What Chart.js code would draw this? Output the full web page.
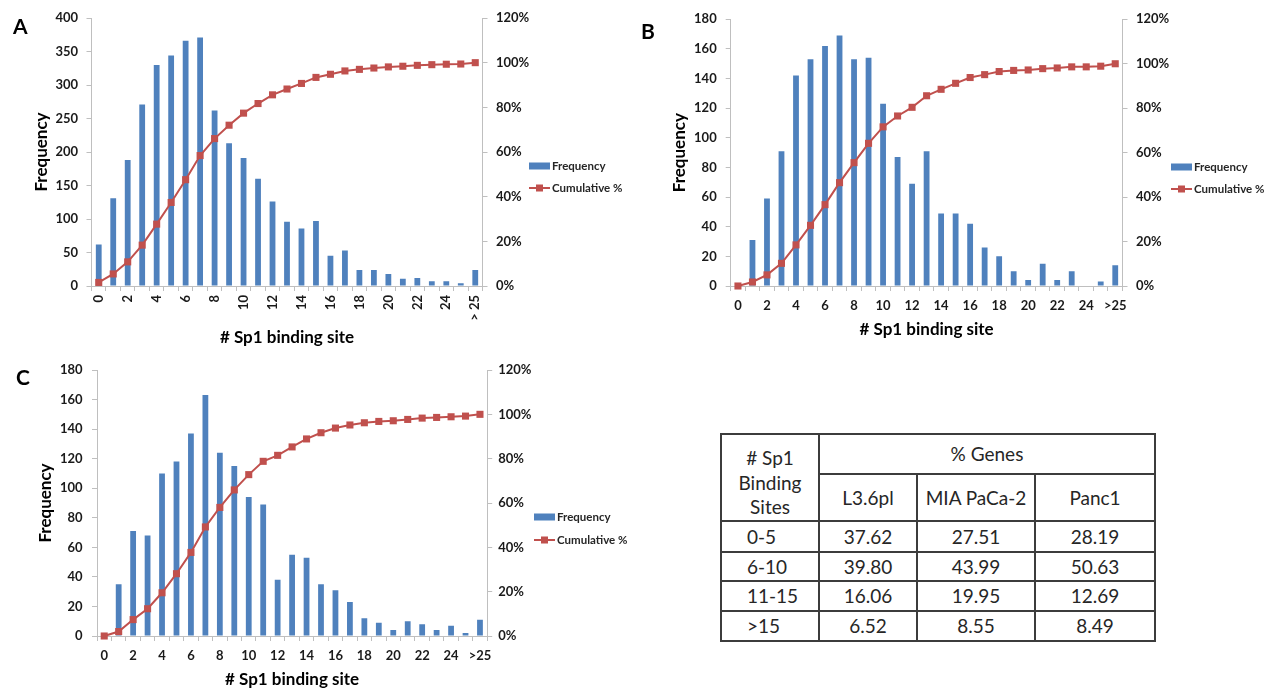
<!DOCTYPE html>
<html><head><meta charset="utf-8">
<script src="https://cdn.jsdelivr.net/npm/chart.js@4.4.0/dist/chart.umd.min.js"></script>
<style>
html,body{margin:0;padding:0;background:#fff;overflow:hidden;width:1269px;height:689px;position:relative;}
canvas{position:absolute;}
.panel{position:absolute;font-family:Lato,'Open Sans',sans-serif;font-weight:700;font-size:21px;line-height:21px;color:#000;}
table{position:absolute;left:720px;top:433px;border-collapse:collapse;font-family:Lato,'Open Sans',sans-serif;font-size:19px;color:#262626;table-layout:fixed;}
td{border:2px solid #3c3c3c;padding:0;text-align:center;vertical-align:middle;white-space:nowrap;}
td.lab{text-align:left;padding-left:25px;}
td.hd{vertical-align:top;padding-top:11px;line-height:24.5px;}
</style></head><body>
<canvas id="cA" width="640" height="350" style="left:0;top:0"></canvas>
<canvas id="cB" width="649" height="345" style="left:620px;top:0"></canvas>
<canvas id="cC" width="640" height="345" style="left:0;top:350px"></canvas>
<div class="panel" style="left:13px;top:15px">A</div>
<div class="panel" style="left:641px;top:20px">B</div>
<div class="panel" style="left:16px;top:366px">C</div>
<table id="tbl">
<colgroup><col style="width:98px"><col style="width:98px"><col style="width:118px"><col style="width:120px"></colgroup>
<tbody id="tb"></tbody>
</table>
<script>
// ---- data ----
const categoriesA = ['0','1','2','3','4','5','6','7','8','9','10','11','12','13','14','15','16','17','18','19','20','21','22','23','24','25','> 25'];
const categoriesBC = ['0','1','2','3','4','5','6','7','8','9','10','11','12','13','14','15','16','17','18','19','20','21','22','23','24','25','>25'];
const freqA = [62,131,188,271,330,344,366,371,262,213,191,160,126,96,86,97,45,53,24,24,18,11,12,7,7,4,24];
const cumA  = [1.6,5.4,10.8,18.3,27.7,37.4,47.6,58.4,66.0,72.0,77.4,81.7,85.6,88.2,90.7,93.4,94.8,96.3,97.0,97.6,98.1,98.4,98.8,99.1,99.3,99.4,100];
const freqB = [0,31,59,91,142,153,162,169,153,154,123,87,69,91,49,49,42,26,20,10,4,15,4,10,0,3,14];
const cumB  = [0,1.8,5.0,10.2,18.5,27.3,36.6,46.5,55.5,64.2,71.6,76.5,80.4,85.6,88.5,91.2,93.8,95.1,96.5,97.0,97.2,97.8,98.1,98.6,98.6,98.9,100];
const freqC = [0,35,71,68,110,118,137,163,124,115,94,89,38,55,53,35,31,23,12,9,4,10,8,4,7,2,11];
const cumC  = [0,2.0,7.4,12.3,19.5,28.1,37.7,49.2,58.0,65.9,72.8,78.8,81.5,85.3,88.9,91.7,93.8,95.2,96.2,96.8,97.1,97.7,98.3,98.6,98.9,99.2,100];
const seriesNames = ['Frequency','Cumulative %'];
const xTitle = '# Sp1 binding site';
const yTitle = 'Frequency';
const pctTicks = [0,20,40,60,80,100,120];

const tableHeader = ['# Sp1', 'Binding', 'Sites'];
const tableGroup = '% Genes';
const cellLines = ['L3.6pl','MIA PaCa-2','Panc1'];
const siteRanges = ['0-5','6-10','11-15','>15'];
const pctL36 = ['37.62','39.80','16.06','6.52'];
const pctMIA = ['27.51','43.99','19.95','8.55'];
const pctPanc = ['28.19','50.63','12.69','8.49'];

// ---- styles ----
const BAR = '#4F81BD', LINE = '#C0504D', AXIS = '#BFBFBF', TXT = '#1a1a1a';
const FONT = 'Lato';

const legendPlugin = {
  id: 'xlLegend',
  afterDraw(chart, args, o) {
    const ctx = chart.ctx, ds = chart.data.datasets;
    ctx.save();
    ctx.font = '700 11.5px ' + FONT;
    ctx.textBaseline = 'middle';
    ctx.textAlign = 'left';
    ctx.fillStyle = BAR;
    ctx.fillRect(o.x, o.y1 - 3.5, 21, 7);
    ctx.fillStyle = '#262626';
    ctx.fillText(ds[1].label, o.x + 23, o.y1 + 0.5);
    ctx.strokeStyle = LINE; ctx.lineWidth = 2;
    ctx.beginPath(); ctx.moveTo(o.x, o.y2); ctx.lineTo(o.x + 21, o.y2); ctx.stroke();
    ctx.fillStyle = LINE;
    ctx.fillRect(o.x + 7, o.y2 - 3.5, 7, 7);
    ctx.fillStyle = '#262626';
    ctx.fillText(ds[0].label, o.x + 23, o.y2 + 0.5);
    ctx.restore();
  }
};

function makeChart(id, cats, freq, cum, fMax, fStep, g) {
  const tickFont = {family: FONT, weight: '700', size: 13};
  const titleFont = {family: FONT, weight: '700', size: 17};
  new Chart(document.getElementById(id), {
    type: 'bar',
    data: {
      labels: cats,
      datasets: [
        {type: 'line', label: seriesNames[1], data: cum, yAxisID: 'y1', order: 0,
         borderColor: LINE, backgroundColor: LINE, borderWidth: 2, pointStyle: 'rect',
         pointRadius: 5, pointBorderWidth: 0, pointBackgroundColor: LINE, tension: 0, clip: false},
        {type: 'bar', label: seriesNames[0], data: freq, yAxisID: 'y', order: 1,
         backgroundColor: BAR, borderWidth: 0, categoryPercentage: 1, barPercentage: 0.4}
      ]
    },
    options: {
      responsive: false, animation: false, devicePixelRatio: 1,
      layout: {padding: {left: g.pL, right: g.pR, top: g.pT, bottom: g.pB}},
      plugins: {legend: {display: false}, tooltip: {enabled: false}, xlLegend: g.leg},
      scales: {
        x: {
          offset: true,
          grid: {display: true, drawOnChartArea: false, drawTicks: true, tickLength: 5, color: AXIS, offset: true},
          border: {display: true, color: AXIS, width: 1},
          ticks: {autoSkip: false, minRotation: g.rot, maxRotation: g.rot, padding: g.xPad, color: TXT, font: tickFont,
                  callback: (v, i) => (i % 2 === 0 ? cats[i] : '')},
          title: {display: true, text: xTitle, color: '#000', font: titleFont, padding: {top: 0, bottom: 0}},
          afterFit: s => { s.height = g.xH; }
        },
        y: {
          position: 'left', min: 0, max: fMax,
          grid: {display: true, drawOnChartArea: false, drawTicks: true, tickLength: 5, color: AXIS},
          border: {display: true, color: AXIS, width: 1},
          ticks: {stepSize: fStep, padding: g.yPad, color: TXT, font: tickFont},
          title: {display: true, text: yTitle, color: '#000', font: titleFont, padding: {top: 0, bottom: 0}},
          afterFit: s => { s.width = g.wL; }
        },
        y1: {
          position: 'right', min: 0, max: 120,
          grid: {display: true, drawOnChartArea: false, drawTicks: true, tickLength: 5, color: AXIS},
          border: {display: true, color: AXIS, width: 1},
          afterBuildTicks: s => { s.ticks = pctTicks.map(v => ({value: v})); },
          ticks: {padding: g.y1Pad, color: TXT, font: tickFont, callback: v => v + '%'},
          afterFit: s => { s.width = g.wR; }
        }
      }
    },
    plugins: [legendPlugin]
  });
}

makeChart('cA', categoriesA, freqA, cumA, 400, 50,
  {pL: 31.5, wL: 60, wR: 50, pR: 107.5, pT: 18, pB: 1.8, xH: 62.2, yPad: 8.5, y1Pad: 8.5, xPad: 4, rot: 90,
   leg: {x: 529, y1: 166, y2: 188}});
makeChart('cB', categoriesBC, freqB, cumB, 180, 20,
  {pL: 49.8, wL: 60.9, wR: 50, pR: 96.5, pT: 19.3, pB: 4.8, xH: 54.2, yPad: 9, y1Pad: 8.5, xPad: 7.2, rot: 0,
   leg: {x: 551, y1: 167, y2: 189}});
makeChart('cC', categoriesBC, freqC, cumC, 180, 20,
  {pL: 35.8, wL: 61.2, wR: 50, pR: 102.8, pT: 20, pB: 4.8, xH: 54.2, yPad: 9.5, y1Pad: 6, xPad: 7.2, rot: 0,
   leg: {x: 534, y1: 167, y2: 190}});

// ---- table ----
const tb = document.getElementById('tb');
let html = '<tr style="height:39px"><td class="hd" rowspan="2">' + tableHeader.join('<br>') +
  '</td><td colspan="3">' + tableGroup + '</td></tr>';
html += '<tr style="height:46px">' + cellLines.map(c => '<td>' + c + '</td>').join('') + '</tr>';
const rowH = [31, 29, 30, 30];
siteRanges.forEach((r, i) => {
  html += '<tr style="height:' + rowH[i] + 'px"><td class="lab">' + r + '</td><td>' + pctL36[i] +
    '</td><td>' + pctMIA[i] + '</td><td>' + pctPanc[i] + '</td></tr>';
});
tb.innerHTML = html;
</script>
</body></html>
